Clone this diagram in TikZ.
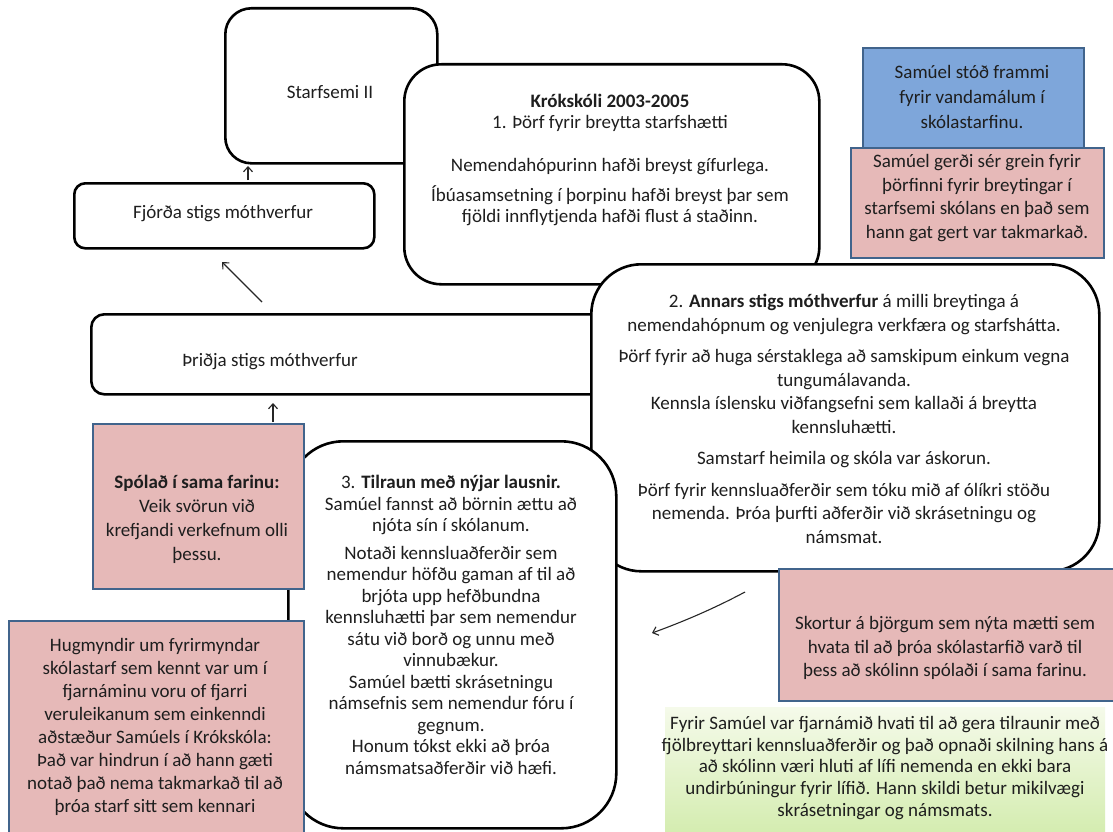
\documentclass[tikz,border=0pt]{standalone}
\usepackage{fontspec}
\setmainfont{Carlito}
\usetikzlibrary{arrows.meta}
\definecolor{pinkfill}{HTML}{E6B9B8}
\definecolor{pinkdraw}{HTML}{41648C}
\definecolor{bluefill}{HTML}{7EA6DA}
\definecolor{greentop}{HTML}{F5FAEA}
\definecolor{greenbot}{HTML}{D3ECAE}
\definecolor{txt}{HTML}{1E1E1E}
\tikzset{
  rbox/.style={draw=black, line width=2.6pt, fill=white, rounded corners=#1, inner sep=0pt, anchor=north west},
  cbox/.style={draw=pinkdraw, fill=#1, line width=2.2pt, inner sep=0pt, anchor=north west},
  lbl/.style={text=txt, align=center, inner sep=0pt, font=\fontsize{19}{23.5}\selectfont},
  arr/.style={draw=black!85, line width=1.1pt, -{Straight Barb[length=5pt,width=9pt]}}
}
\begin{document}
\begin{tikzpicture}[x=1pt,y=-1pt]
\useasboundingbox[fill=white] (0,0) rectangle (1113,832);
% left column boxes
\node[rbox=26pt, minimum width=212pt, minimum height=155pt] (s2) at (224,7) {};
\node[rbox=11pt, minimum width=300pt, minimum height=65pt] (fj) at (73,182) {};
\node[rbox=13pt, minimum width=530pt, minimum height=80pt] (thr) at (90,313) {};
% big boxes
\node[rbox=37pt, minimum width=415pt, minimum height=220pt] (k1) at (403,63) {};
\node[rbox=50pt, minimum width=508pt, minimum height=307pt] (k2) at (590,263) {};
\node[rbox=55pt, minimum width=328pt, minimum height=387pt] (k3) at (287,440) {};
% coloured boxes
\node[cbox=bluefill, minimum width=221pt, minimum height=106pt] (blue) at (862,47) {};
\node[cbox=pinkfill, minimum width=253pt, minimum height=110pt] (ptr) at (850,147) {};
\node[cbox=pinkfill, minimum width=211pt, minimum height=165pt] (spo) at (92,423) {};
\node[cbox=pinkfill, minimum width=295pt, minimum height=216pt] (hug) at (8,620) {};
\node[cbox=pinkfill, minimum width=340pt, minimum height=132pt] (sko) at (778,568) {};
\node[inner sep=0pt, anchor=north west, top color=greentop, bottom color=greenbot, minimum width=440pt, minimum height=130pt] (grn) at (665,707) {};
% texts
\node[lbl] (s2t) at (330,92) {Starfsemi II};
\node[lbl] (fjt) at (223,214) {Fjórða stigs móthverfur};
\node[lbl] (thrt) at (270,362) {Þriðja stigs móthverfur};
\node[lbl, font=\fontsize{19}{21.5}\selectfont] (k1t) at (610,160) {\textbf{Krókskóli 2003-2005}\\
1. Þörf fyrir breytta starfshætti\\[21.5pt]
Nemendahópurinn hafði breyst gífurlega.\\[8pt]
Íbúasamsetning í þorpinu hafði breyst þar sem\\
fjöldi innflytjenda hafði flust á staðinn.};
\node[lbl] (k2t) at (844,419) {2. \textbf{Annars stigs móthverfur} á milli breytinga á\\
nemendahópnum og venjulegra verkfæra og starfshátta.\\[8pt]
Þörf fyrir að huga sérstaklega að samskipum einkum vegna\\
tungumálavanda.\\
Kennsla íslensku viðfangsefni sem kallaði á breytta\\
kennsluhætti.\\[8pt]
Samstarf heimila og skóla var áskorun.\\[8pt]
Þörf fyrir kennsluaðferðir sem tóku mið af ólíkri stöðu\\
nemenda. Þróa þurfti aðferðir við skrásetningu og\\
námsmat.};
\node[lbl, font=\fontsize{19}{21.5}\selectfont] (k3t) at (451,625) {3. \textbf{Tilraun með nýjar lausnir.}\\
Samúel fannst að börnin ættu að\\
njóta sín í skólanum.\\[6pt]
Notaði kennsluaðferðir sem\\
nemendur höfðu gaman af til að\\
brjóta upp hefðbundna\\
kennsluhætti þar sem nemendur\\
sátu við borð og unnu með\\
vinnubækur.\\
Samúel bætti skrásetningu\\
námsefnis sem nemendur fóru í\\
gegnum.\\
Honum tókst ekki að þróa\\
námsmatsaðferðir við hæfi.};
\node[lbl, font=\fontsize{19}{25}\selectfont] (bluet) at (972,97) {Samúel stóð frammi\\fyrir vandamálum í\\skólastarfinu.};
\node[lbl] (ptrt) at (977,198) {Samúel gerði sér grein fyrir\\þörfinni fyrir breytingar í\\starfsemi skólans en það sem\\hann gat gert var takmarkað.};
\node[lbl, font=\fontsize{19}{24}\selectfont] (spot) at (197,519) {\textbf{Spólað í sama farinu:}\\Veik svörun við\\krefjandi verkefnum olli\\þessu.};
\node[lbl, font=\fontsize{19}{23}\selectfont] (hugt) at (155,727) {Hugmyndir um fyrirmyndar\\skólastarf sem kennt var um í\\fjarnáminu voru of fjarri\\veruleikanum sem einkenndi\\aðstæður Samúels í Krókskóla:\\Það var hindrun í að hann gæti\\notað það nema takmarkað til að\\þróa starf sitt sem kennari};
\node[lbl] (skot) at (945,648) {Skortur á björgum sem nýta mætti sem\\hvata til að þróa skólastarfið varð til\\þess að skólinn spólaði í sama farinu.};
\node[lbl, font=\fontsize{19}{21.7}\selectfont] (grnt) at (885,768) {Fyrir Samúel var fjarnámið hvati til að gera tilraunir með\\fjölbreyttari kennsluaðferðir og það opnaði skilning hans á\\að skólinn væri hluti af lífi nemenda en ekki bara\\undirbúningur fyrir lífið. Hann skildi betur mikilvægi\\skrásetningar og námsmats.};
% arrows
\coordinate (a1s) at (248,180);
\coordinate (a1e) at (248,166);
\coordinate (a2s) at (262,302);
\coordinate (a2e) at (222,262);
\coordinate (a3s) at (273,422);
\coordinate (a3e) at (273,403);
\coordinate (a4s) at (745,592);
\coordinate (a4e) at (652,633);
\draw[arr] (a1s) -- (a1e);
\draw[arr] (a2s) -- (a2e);
\draw[arr] (a3s) -- (a3e);
\draw[arr] (a4s) .. controls (715,608) and (685,621) .. (a4e);
\end{tikzpicture}
\end{document}
